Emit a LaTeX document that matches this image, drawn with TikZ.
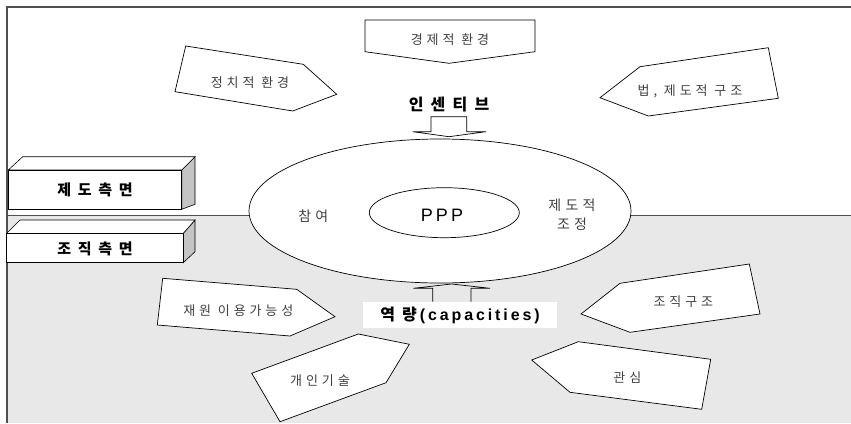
\documentclass[tikz,border=0pt]{standalone}
\usepackage{fontspec}
\setmainfont{Liberation Sans}
\newfontfamily\kr[LetterSpace=30]{Noto Sans CJK KR}
\newfontfamily\krw[LetterSpace=45]{Noto Sans CJK KR}
\newfontfamily\lat[LetterSpace=18]{Liberation Sans}
\definecolor{bgG}{HTML}{E8E8E8}
\definecolor{frameC}{HTML}{505050}
\definecolor{faceC}{HTML}{C4C4C4}
\definecolor{txtC}{HTML}{404040}
\tikzset{
  pent/.style={draw=black, fill=white, line width=0.7pt, line join=miter},
  lbl/.style={font=\kr\fontsize{13}{15}\selectfont, text=txtC, inner sep=0pt},
  blbl/.style={font=\krw\bfseries\fontsize{15}{17}\selectfont, text=black, inner sep=0pt},
  boxline/.style={draw=black, line width=0.6pt},
}
\begin{document}
\begin{tikzpicture}[x=1pt,y=-1pt]
\useasboundingbox (0,0) rectangle (851,423);
% background
\fill[bgG] (7,215) rectangle (851,423);
\draw[frameC, line width=0.6pt] (7,215) -- (851,215);
\draw[frameC, line width=1.5pt] (7,423) -- (7,7) -- (851,7);

% top shapes
\draw[pent] (185.7,46) -- (303.3,64.3) -- (336.7,94.3) -- (292.7,111) -- (175,91.7) -- cycle;
\node[lbl] (pol) at (250,83) {정치적 환경};
\draw[pent] (365,20) -- (535,20) -- (535,51.7) -- (449,63.3) -- (365,51.7) -- cycle;
\node[lbl] (eco) at (450,40) {경제적 환경};
\draw[pent] (600,97.7) -- (640,66.7) -- (768.3,47.7) -- (778.3,98.3) -- (648.3,116) -- cycle;
\node[lbl] (law) at (690,91.7) {법, 제도적 구조};

% left boxes
\draw[boxline, fill=faceC] (181.7,170) -- (195,156.7) -- (195,204.3) -- (181.7,209.3) -- cycle;
\draw[boxline, fill=white] (8.3,170) -- (22.7,156.7) -- (195,156.7) -- (181.7,170) -- cycle;
\draw[boxline, fill=white] (8.3,170) rectangle (181.7,209.3);
\node[blbl] (inst) at (95,190) {제도측면};
\draw[boxline, fill=faceC] (183.3,233.3) -- (195,220) -- (195,251.7) -- (183.3,262.7) -- cycle;
\draw[boxline, fill=white] (6.7,233.3) -- (20,220) -- (195,220) -- (183.3,233.3) -- cycle;
\draw[boxline, fill=white] (6.7,233.3) rectangle (183.3,262.7);
\node[blbl] (org) at (95,248.5) {조직측면};

% ellipses
\draw[black, line width=0.7pt, fill=white] (440,211) ellipse [x radius=191pt, y radius=72pt];
\draw[black, line width=0.7pt] (444.3,212.7) ellipse [x radius=75pt, y radius=25pt];
\node[font=\lat\fontsize{18}{20}\selectfont, inner sep=0pt] (ppp) at (442,215) {PPP};
\node[lbl, font=\kr\fontsize{14}{16}\selectfont] (part) at (313.3,216) {참여};
\node[lbl, font=\kr\fontsize{14}{17}\selectfont, align=center] (adj) at (572,215) {제도적\\[2pt]조정};

% incentive arrow
\node[font=\krw\bfseries\fontsize{16}{18}\selectfont, inner sep=0pt] (inc) at (449,105) {인센티브};
\draw[pent] (431,116.7) -- (466.7,116.7) -- (466.7,131.7) -- (486,131.7) -- (449,136.7) -- (412.7,131.7) -- (431,131.7) -- cycle;

% capacities arrow
\draw[black, line width=0.7pt] (432.7,301.7) -- (432.7,288.3) -- (413.3,288.3) -- (451.7,284) -- (490,288.3) -- (471,288.3) -- (471,301.7);
\fill[white] (363.3,301.7) rectangle (556.7,328.3);
\node[inner sep=0pt] (cap) at (460,315.5) {\krw\bfseries\fontsize{16}{18}\selectfont 역량\hspace{3pt}\lat\bfseries\fontsize{16}{18}\selectfont (capacities)};

% bottom shapes
\draw[pent] (162.7,278.3) -- (296.7,289.3) -- (335,316.7) -- (290,336) -- (157.3,325) -- cycle;
\node[lbl] (res) at (238.3,311) {재원 이용가능성};
\draw[pent] (251.7,373.3) -- (358.3,334) -- (409.3,344.3) -- (386,382.7) -- (280,421.7) -- cycle;
\node[lbl] (skill) at (320,381) {개인기술};
\draw[pent] (581,314) -- (620,283.3) -- (749.3,264) -- (760,314) -- (630,332.3) -- cycle;
\node[lbl] (struct) at (683.3,301.7) {조직구조};
\draw[pent] (531.7,360) -- (578.3,341.7) -- (710.7,359.3) -- (701.7,409.3) -- (570,392.3) -- cycle;
\node[lbl] (int) at (627.3,377.3) {관심};
\end{tikzpicture}
\end{document}
